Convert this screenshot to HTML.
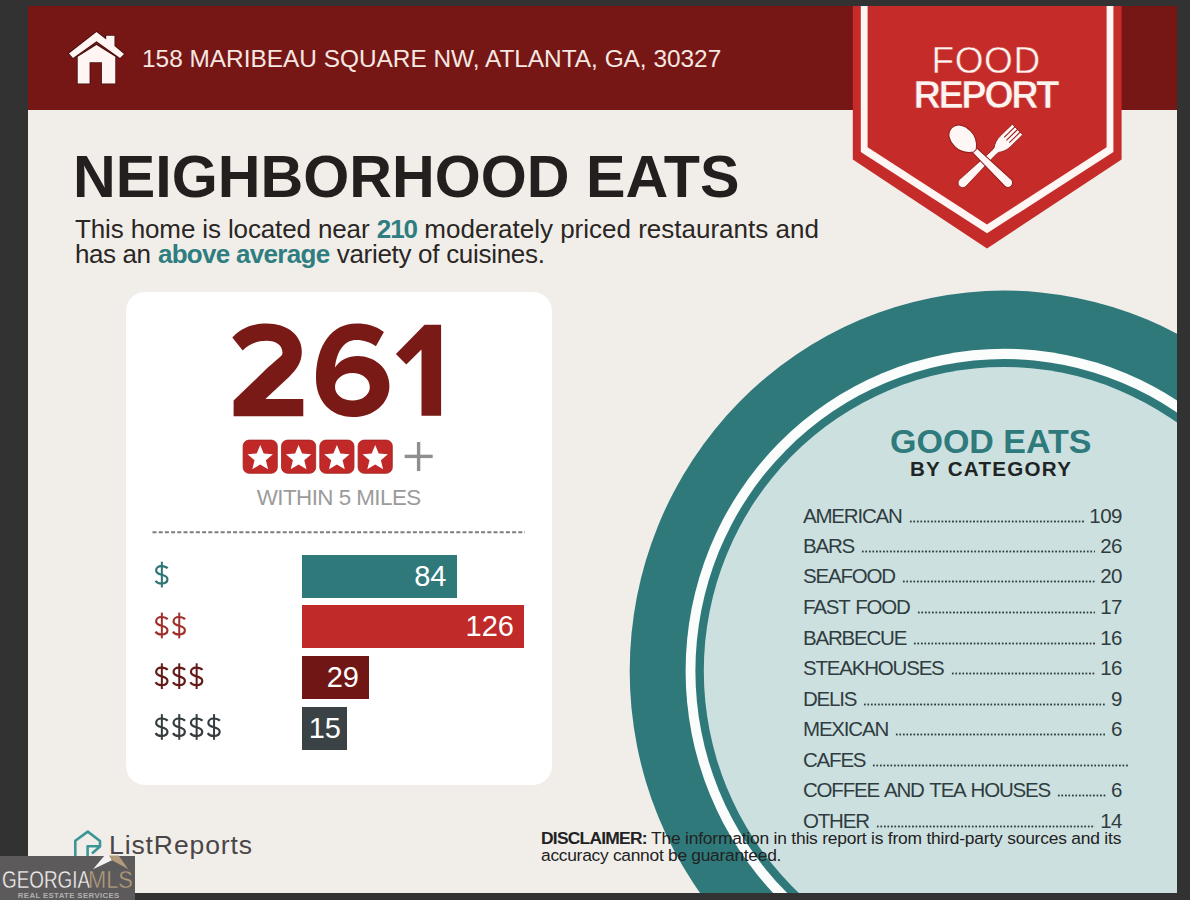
<!DOCTYPE html>
<html><head><meta charset="utf-8">
<style>
*{margin:0;padding:0;box-sizing:border-box}
html,body{width:1190px;height:900px;overflow:hidden;background:#323232}
body{position:relative;font-family:"Liberation Sans",sans-serif}
.a{position:absolute;white-space:nowrap;line-height:1}
#page{position:absolute;left:28px;top:6px;width:1149px;height:887px;background:#f1eeea;overflow:hidden}
#hdr{position:absolute;left:28px;top:6px;width:1149px;height:103.5px;background:#771715}
#card{position:absolute;left:125.5px;top:291.5px;width:426.5px;height:493.5px;background:#fff;border-radius:19px}
.bar{position:absolute;left:302px;height:43px;color:#fff;font-size:29px;text-align:right;padding-right:10px;line-height:43px}
.row{position:absolute;left:803px;width:319px;height:21px;font-size:20.5px;color:#2f3d40;line-height:1;display:flex;align-items:flex-end}
.row .n{letter-spacing:-1.2px;word-spacing:1.6px;white-space:nowrap}
.row .d{flex:1;height:3px;margin:0 5px 3.4px 7px;background-image:radial-gradient(circle,#2f3d40 0.8px,rgba(47,61,64,0.5) 1.05px,transparent 1.3px);background-size:3.53px 3px;background-repeat:repeat-x;background-position:0 0}
.row .v{white-space:nowrap;letter-spacing:-0.5px}
</style></head>
<body>
<div id="page"></div>
<div id="hdr"></div>

<!-- house icon -->
<svg class="a" style="left:0;top:0" width="200" height="110" viewBox="0 0 200 110">
  <g fill="#fff5f3" stroke="#3e0d0b" stroke-width="1.6" paint-order="stroke" stroke-linejoin="miter">
    <path d="M77.7 83.5 V56.8 L96.5 44.9 L115.3 56.8 V83.5 H101.9 V62.2 H89.6 V83.5 Z"/>
    <path d="M69 53.5 L96.5 31.9 L106.2 39.5 V35.8 H114.5 V46 L124 53.9 L120 57.9 L96.5 41.3 L73 57.9 Z"/>
  </g>
</svg>
<div class="a" style="left:142px;top:46.6px;font-size:24.4px;color:#f6e7e3">158 MARIBEAU SQUARE NW, ATLANTA, GA, 30327</div>

<!-- badge -->
<svg class="a" style="left:0;top:0" width="1190" height="260" viewBox="0 0 1190 260">
  <polygon fill="#c52b28" points="852.8,6 1121.6,6 1121.6,159.4 987,248.4 852.8,159.4"/>
  <polygon fill="#fff6f4" points="860.8,6 1113.4,6 1113.4,152 987,233.3 860.8,152"/>
  <polygon fill="#c52b28" points="867.6,6 1106.6,6 1106.6,147.2 987,224.5 867.6,147.2"/>
</svg>
<div class="a" id="food" style="left:931.5px;top:41.5px;font-size:37px;color:#fff3f0;letter-spacing:0.6px;-webkit-text-stroke:0.5px #c52b28">FOOD</div>
<div class="a" id="rep" style="left:913.5px;top:75.8px;font-size:38px;font-weight:700;color:#fff3f0;letter-spacing:-2.5px;-webkit-text-stroke:0.6px #c52b28">REPORT</div>


<!-- utensils -->
<svg class="a" style="left:0;top:0" width="1100" height="200" viewBox="0 0 1100 200">
  <g transform="translate(1017.5,129.5) rotate(135.7)" fill="#fff7f5" stroke="#8e1d1b" stroke-width="0.8">
    <path d="M0,-7.4 H17 C21.5,-7.4 26,-6 29.5,-3.2 L34,-2.9 L76.5,-4.7 A4.7,4.7 0 0 1 76.5,4.7 L34,2.9 L29.5,3.2 C26,6 21.5,7.4 17,7.4 H0 Z"/>
    <path d="M0,-3.7 H15 M0,0 H15.5 M0,3.7 H15" stroke="#9a1f1d" stroke-width="1.1" fill="none"/>
  </g>
  <g transform="translate(963.5,139.5) rotate(44.2)" fill="#fff7f5" stroke="#8e1d1b" stroke-width="1">
    <path d="M12,-3 L62,-4.7 A4.7,4.7 0 0 1 62,4.7 L12,3 Z"/>
    <path d="M-16.5,0 C-16.5,-7.5 -9,-11.2 -1,-11.2 C7,-11.2 13,-6 16,-1.9 L16,1.9 C13,6 7,11.2 -1,11.2 C-9,11.2 -16.5,7.5 -16.5,0 Z"/>
  </g>
</svg>

<!-- title -->
<div class="a" style="left:73px;top:147.3px;font-size:59.2px;font-weight:700;color:#231f1e">NEIGHBORHOOD EATS</div>
<div class="a" style="left:75px;top:215.6px;font-size:26px;color:#2a2624"><span style="letter-spacing:-0.13px">This home is located near</span> <b id="w210" style="color:#2e7d80;letter-spacing:-1px">210</b> moderately priced restaurants and</div>
<div class="a" style="left:75px;top:240.7px;font-size:26px;color:#2a2624"><span style="letter-spacing:-0.4px">has an</span> <b id="wabove" style="color:#2e7d80;letter-spacing:-0.7px">above average</b> <span id="wvar" style="letter-spacing:-0.3px">variety of cuisines.</span></div>

<!-- card -->
<div id="card"></div>

<!-- circle -->
<svg class="a" style="left:0;top:0" width="1190" height="900" viewBox="0 0 1190 900">
  <defs><clipPath id="cp"><rect x="28" y="6" width="1149" height="887"/></clipPath></defs>
  <g clip-path="url(#cp)">
    <ellipse cx="1004" cy="671" rx="374.3" ry="380.4" fill="#2f797b"/>
    <ellipse cx="1004" cy="671" rx="318.4" ry="322.3" fill="#fbfdfd"/>
    <ellipse cx="1004" cy="671" rx="308.6" ry="312" fill="#2f797b"/>
    <ellipse cx="1004" cy="671" rx="300.2" ry="304" fill="#cde0e0"/>
  </g>
</svg>


<!-- card content -->
<svg class="a" id="n261" style="left:0;top:0" width="460" height="430" viewBox="0 0 460 430">
  <g fill="#7a1a17">
    <path d="M232.3 337.6 C240 328.5 252 323.6 266.6 323.6 C287 323.6 301.8 335 301.8 351.7 C301.8 362 297 369 289 377 L265.4 399.1 L303.3 399.1 L303.3 416.3 L233.6 416.3 L233.6 400.6 L267.8 367.6 C277 359 282.5 356 282.5 352.9 C282.5 345 276 340.7 266.6 340.7 C257 340.7 249 344 242.7 350.5 Z"/>
    <path fill-rule="evenodd" d="M383.9 332.1 C376 326 367 323.6 356.4 323.6 C332 323.6 316 345 316 378.6 C316 401 331 417.1 352.7 417.1 C374 417.1 389.4 403 389.4 385.9 C389.4 368 374.5 356 357.6 356 C348 356 340 360 335 367.6 C337 350 345 340.1 356.4 340.1 C364 340.1 370 342.5 375.9 346.2 Z M352.4 373.1 C362 373.1 369.8 379 369.8 387 C369.8 395 362 400.6 352.4 400.6 C343 400.6 335 395 335 387 C335 379 343 373.1 352.4 373.1 Z"/>
    <polygon points="441.1,324.8 424.6,324.8 395.9,354.1 406.3,364.5 421.5,349.5 421.5,415.8 441.1,415.8"/>
  </g>
</svg>
<svg class="a" style="left:0;top:0" width="600" height="560" viewBox="0 0 600 560">
  <defs>
    <g id="st"><rect x="0.4" y="0.4" width="34.2" height="33.2" rx="6" fill="#c02927" stroke="#a52321" stroke-width="0.8"/>
    <polygon fill="#fff" points="17.5,5.3 21.0,13.8 30.2,14.6 23.2,20.6 25.4,29.5 17.5,24.7 9.6,29.5 11.8,20.6 4.8,14.6 14.0,13.8"/></g>
  </defs>
  <use href="#st" x="242.7" y="439.7"/>
  <use href="#st" x="281.1" y="439.7"/>
  <use href="#st" x="319.4" y="439.7"/>
  <use href="#st" x="357.7" y="439.7"/>
  <rect x="404.7" y="454.7" width="28" height="3.4" fill="#8f8f8f"/>
  <rect x="416.9" y="442" width="3.4" height="29" fill="#8f8f8f"/>
  <line x1="152.5" y1="532.2" x2="525" y2="532.2" stroke="#7d7d7d" stroke-width="2" stroke-dasharray="4 2.2"/>
</svg>
<div class="a" id="w5" style="left:256.7px;top:486.5px;font-size:22.4px;color:#9b9b9b;letter-spacing:-0.55px">WITHIN 5 MILES</div>

<div class="bar" style="top:554.5px;width:154.5px;background:#2f797b">84</div>
<div class="bar" style="top:605px;width:222px;background:#c02a28">126</div>
<div class="bar" style="top:656px;width:67px;background:#701715">29</div>
<div class="bar" style="top:707px;width:45px;background:#3a4246;padding-right:6px">15</div>
<svg class="a" style="left:0;top:0" width="240" height="760" viewBox="0 0 240 760">
<defs><g id="dol" fill="none" stroke-width="2.2"><path d="M5.8,6.6 C4.5,5 2.2,4.4 -0.5,4.4 C-3.6,4.4 -5.7,6.2 -5.7,8.8 C-5.7,11.6 -3,12.4 0,13.1 C3,13.8 5.6,15 5.6,17.6 C5.6,20.2 3.2,21.8 -0.5,21.8 C-3.3,21.8 -5.3,20.7 -6.3,19"/><path d="M0,0 V25.7" stroke-width="2"/></g></defs>
<use href="#dol" x="161.85" y="561.7" stroke="#2d7574"/>
<use href="#dol" x="161.85" y="612.6" stroke="#a0302c"/>
<use href="#dol" x="179.25" y="612.6" stroke="#a0302c"/>
<use href="#dol" x="161.85" y="663.3" stroke="#641a18"/>
<use href="#dol" x="179.25" y="663.3" stroke="#641a18"/>
<use href="#dol" x="196.65" y="663.3" stroke="#641a18"/>
<use href="#dol" x="161.85" y="714.1" stroke="#353c3f"/>
<use href="#dol" x="179.25" y="714.1" stroke="#353c3f"/>
<use href="#dol" x="196.65" y="714.1" stroke="#353c3f"/>
<use href="#dol" x="214.05" y="714.1" stroke="#353c3f"/>
</svg>

<!-- category list -->
<div class="a" id="ge" style="left:890px;top:424px;font-size:34px;font-weight:700;color:#2e7a7c">GOOD EATS</div>
<div class="a" id="bc" style="left:910px;top:459.2px;font-size:20.6px;font-weight:700;color:#1f2424;letter-spacing:1.25px">BY CATEGORY</div>
<div class="row" style="top:505.6px"><span class="n">AMERICAN</span><span class="d"></span><span class="v">109</span></div>
<div class="row" style="top:535.6px"><span class="n">BARS</span><span class="d"></span><span class="v">26</span></div>
<div class="row" style="top:565.8px"><span class="n">SEAFOOD</span><span class="d"></span><span class="v">20</span></div>
<div class="row" style="top:596.6px"><span class="n">FAST FOOD</span><span class="d"></span><span class="v">17</span></div>
<div class="row" style="top:627.6px"><span class="n">BARBECUE</span><span class="d"></span><span class="v">16</span></div>
<div class="row" style="top:657.6px"><span class="n">STEAKHOUSES</span><span class="d"></span><span class="v">16</span></div>
<div class="row" style="top:688.5px"><span class="n">DELIS</span><span class="d"></span><span class="v">9</span></div>
<div class="row" style="top:718.8px"><span class="n">MEXICAN</span><span class="d"></span><span class="v">6</span></div>
<div class="row" style="top:749.4px"><span class="n">CAFES</span><span class="d" style="margin-right:-6px"></span><span class="v"></span></div>
<div class="row" style="top:779.6px"><span class="n">COFFEE AND TEA HOUSES</span><span class="d"></span><span class="v">6</span></div>
<div class="row" style="top:810.6px"><span class="n">OTHER</span><span class="d"></span><span class="v">14</span></div>

<!-- disclaimer -->
<div class="a" id="disc1" style="left:541px;top:829.6px;font-size:17.4px;color:#222;letter-spacing:-0.2px"><b style="letter-spacing:-0.75px">DISCLAIMER:</b> The information in this report is from third-party sources and its</div>
<div class="a" id="disc2" style="left:541px;top:846.8px;font-size:17.4px;color:#222;letter-spacing:-0.28px">accuracy cannot be guaranteed.</div>

<!-- listreports logo -->
<svg class="a" style="left:0;top:0" width="140" height="870" viewBox="0 0 140 870">
  <path d="M75.3 856 V840.7 L87.8 831.6 L100 841 V846.5 L92 853.5 M87.6 856 V846.2 H99" fill="none" stroke="#3d9696" stroke-width="2.6" stroke-linejoin="round"/>
</svg>
<div class="a" id="lr" style="left:109px;top:832px;font-size:26.5px;color:#4a4546;letter-spacing:0.9px">ListReports</div>

<!-- georgia mls watermark -->
<div class="a" style="left:0;top:855.5px;width:134.5px;height:44.5px;background:#5c5a5b"></div>
<svg class="a" style="left:0;top:0" width="140" height="900" viewBox="0 0 140 900">
  <polygon points="93,869.2 104.6,855.5 109.2,855.5 112,860.3" fill="#f4f2f0"/>
  <polygon points="109.2,855.5 118.6,855.5 128.3,869.2 112,860.3" fill="#b29c7c"/>
</svg>
<div class="a" id="geo" style="left:1.6px;top:868.6px;font-size:23px;color:#f3f1ef;transform:scaleX(0.82);transform-origin:0 0;-webkit-text-stroke:0.35px #5c5a5b">GEORGIA</div>
<div class="a" id="mls" style="left:88px;top:868.6px;font-size:23px;color:#b29c7c;transform:scaleX(0.95);transform-origin:0 0;-webkit-text-stroke:0.35px #5c5a5b">MLS</div>
<div class="a" id="res" style="left:17.8px;top:892.2px;font-size:7.8px;color:#b1afaf;letter-spacing:0.38px;font-weight:700">REAL ESTATE SERVICES</div>
</body></html>
